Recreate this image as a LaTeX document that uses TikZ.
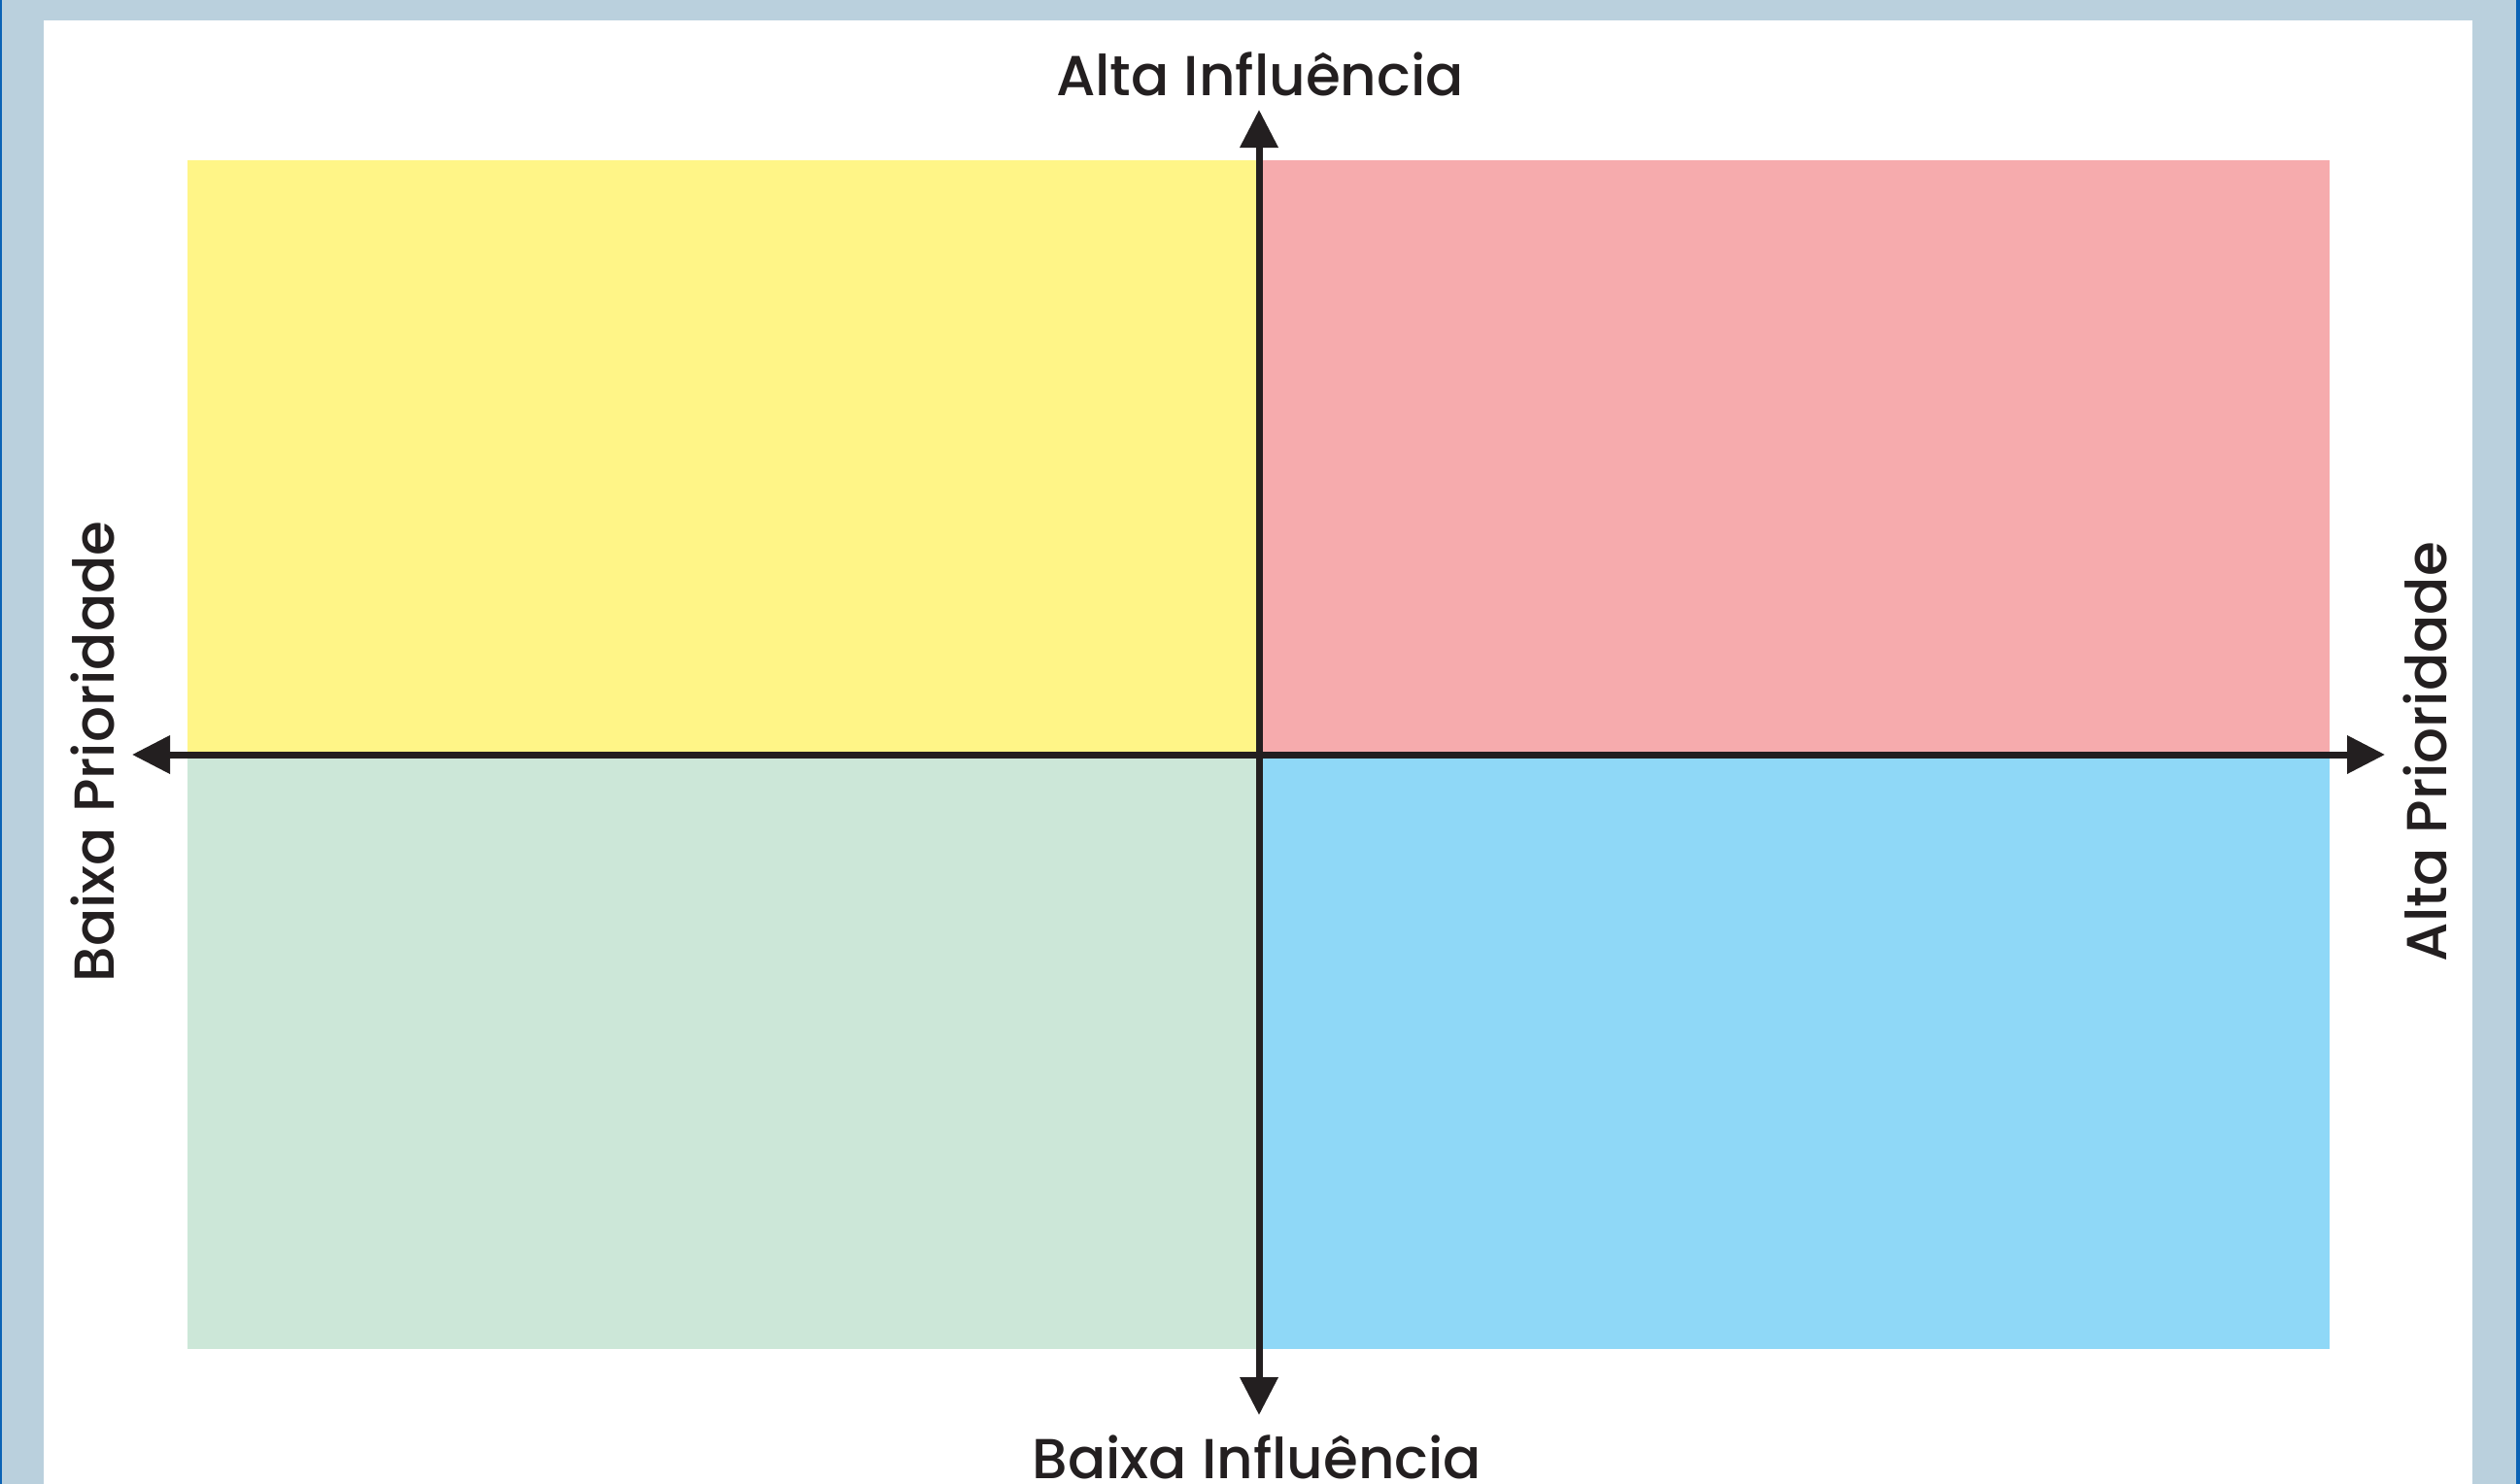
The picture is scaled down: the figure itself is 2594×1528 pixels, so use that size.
\documentclass[tikz,border=0pt]{standalone}
\usepackage{fontspec}
\setmainfont{Poppins}[UprightFont={* Medium}]
\usetikzlibrary{arrows.meta}
\definecolor{frameblue}{HTML}{BAD0DD}
\definecolor{edgeblue}{HTML}{0B63B5}
\definecolor{quadyellow}{HTML}{FFF587}
\definecolor{quadpink}{HTML}{F6ABAD}
\definecolor{quadgreen}{HTML}{CCE7D8}
\definecolor{quadblue}{HTML}{8FD8F7}
\definecolor{axisink}{HTML}{231F20}
\tikzset{
  axisline/.style={draw=axisink, line width=7pt, -{Triangle[length=39pt,width=38pt]}},
  axislabel/.style={text=axisink, font=\fontsize{58}{60}\selectfont, inner sep=0pt}
}
\begin{document}
\begin{tikzpicture}[x=1pt,y=-1pt]
\useasboundingbox (0,0) rectangle (2594,1528);
% frame
\fill[frameblue] (0,0) rectangle (2594,1528);
\fill[white] (45,21) rectangle (2545,1528);
\fill[edgeblue] (0,0) rectangle (1.5,1528);
\fill[edgeblue] (2590,0) rectangle (2594,1528);
% quadrants
\fill[quadyellow] (193,165) rectangle (1296,777);
\fill[quadpink] (1296,165) rectangle (2398,777);
\fill[quadgreen] (193,777) rectangle (1296,1389);
\fill[quadblue] (1296,777) rectangle (2398,1389);
% axis ends
\coordinate (center) at (1296,777);
\coordinate (up) at (1296,113);
\coordinate (down) at (1296,1457);
\coordinate (left) at (136,777);
\coordinate (right) at (2455,777);
\draw[axisline] (center) -- (up);
\draw[axisline] (center) -- (down);
\draw[axisline] (center) -- (left);
\draw[axisline] (center) -- (right);
% labels
\node[axislabel, anchor=base] (hiinf) at (1297,98) {Alta Influência};
\node[axislabel, anchor=base] (loinf) at (1294,1522) {Baixa Influência};
\node[axislabel, anchor=base, rotate=90] (lopri) at (117,774) {Baixa Prioridade};
\node[axislabel, anchor=base, rotate=90] (hipri) at (2518,774) {Alta Prioridade};
\end{tikzpicture}
\end{document}
